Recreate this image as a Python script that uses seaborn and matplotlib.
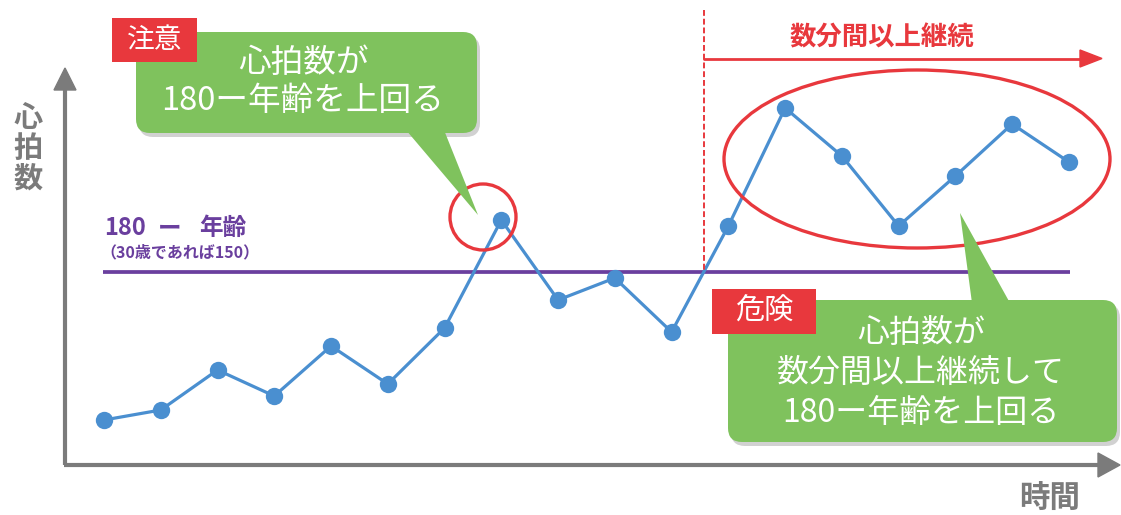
import numpy as np
import matplotlib
matplotlib.use("Agg")
import matplotlib.pyplot as plt
import seaborn as sns
from matplotlib.patches import FancyBboxPatch, Polygon, Ellipse, Circle, Rectangle

# ---- data ----
time = list(range(1, 19))
heart_rate = [113, 115.5, 125.5, 119, 131.5, 122, 136, 163, 143, 148.5,
              135, 161.5, 191, 179, 161.5, 174, 187, 177.5]
threshold = 150
y_label = "心\n拍\n数"
x_label = "時間"
threshold_label_parts = ["180", "ー", "年齢"]
threshold_note = "（30歳であれば150）"
caution_tag = "注意"
caution_lines = ["心拍数が", "180ー年齢を上回る"]
danger_tag = "危険"
danger_lines = ["心拍数が", "数分間以上継続して", "180ー年齢を上回る"]
duration_label = "数分間以上継続"

# ---- colours ----
BLUE = "#4a8fd0"
PURPLE = "#6a3f9e"
RED = "#e8383d"
GREEN = "#7fc25d"
GRAY = "#7b7b7b"

sns.set_style("white")
plt.rcParams['font.family'] = ['Noto Sans CJK JP', 'DejaVu Sans']

W, H = 1121, 515
fig = plt.figure(figsize=(W / 100, H / 100), dpi=100)

# data axes spanning the whole figure (pixel mapping: x0=104 for t=1, 56.76 px per step;
# y=272 px for 150 bpm, 4 px per bpm)
ax = fig.add_axes([0, 0, 1, 1])
px_step = 56.76
ax.set_xlim(1 - 104 / px_step, 1 + (W - 104) / px_step)
ax.set_ylim(threshold - (H - 272) / 4, threshold + 272 / 4)
ax.axis("off")

ax.hlines(threshold, 0.98, 18.02, color=PURPLE, lw=2.7, zorder=2)
sns.lineplot(x=time, y=heart_rate, ax=ax, color=BLUE, linewidth=2.3,
             marker="o", markersize=12.5, markeredgewidth=0, zorder=5)

# crossing point where the series goes above the threshold for good
hr = np.array(heart_rate, dtype=float)
idx = 10
t_cross = time[idx] + (threshold - hr[idx]) / (hr[idx + 1] - hr[idx])

# overlay axes in pixel coordinates for decorations
ov = fig.add_axes([0, 0, 1, 1])
ov.set_xlim(0, W)
ov.set_ylim(H, 0)
ov.axis("off")
ov.patch.set_alpha(0)

def to_px(t, v):
    disp = ax.transData.transform((t, v))
    return ov.transData.inverted().transform(disp)

cx, cy = to_px(t_cross, threshold)

# axes arrows
ov.plot([65, 65], [465, 88], color=GRAY, lw=3.0, solid_capstyle="butt")
ov.add_patch(Polygon([(54, 90), (76, 90), (65, 68)], closed=True, color=GRAY))
ov.plot([63.5, 1100], [465, 465], color=GRAY, lw=3.0, solid_capstyle="butt")
ov.add_patch(Polygon([(1098, 453), (1098, 477), (1120, 465)], closed=True, color=GRAY))

ov.text(28, 148, y_label, ha="center", va="center", fontsize=21, fontweight="bold",
        color=GRAY, linespacing=1.02)
ov.text(1050, 499, x_label, ha="center", va="center", fontsize=22, fontweight="bold",
        color=GRAY)

# threshold labels
for s, xx in zip(threshold_label_parts, [104, 158, 199]):
    ov.text(xx, 228, s, ha="left", va="center", fontsize=17,
            fontweight="bold", color=PURPLE)
ov.text(100, 252, threshold_note, ha="left", va="center", fontsize=11.5,
        fontweight="bold", color=PURPLE)

# red dashed vertical + duration arrow
ov.plot([cx, cx], [10, cy], color=RED, lw=1.4, ls=(0, (3, 1.5)))
ov.plot([cx, 1082], [58.5, 58.5], color=RED, lw=2.0)
ov.add_patch(Polygon([(1080, 50), (1080, 67), (1102, 58.5)], closed=True, color=RED))
ov.text(882, 38, duration_label, ha="center", va="center", fontsize=19,
        fontweight="bold", color=RED)

# ellipse and small circle
ov.add_patch(Ellipse((917, 159), 386, 178, fill=False, ec=RED, lw=2.4, zorder=6))
ov.add_patch(Circle((483, 217), 33, fill=False, ec=RED, lw=2.4, zorder=6))

def callout(x, y, w, h, tail, lines, line_y, cx_text, fs):
    # shadow
    ov.add_patch(FancyBboxPatch((x + 3, y + 4), w, h,
                                boxstyle="round,pad=0,rounding_size=14",
                                fc="#000000", ec="none", alpha=0.18, zorder=7))
    ov.add_patch(FancyBboxPatch((x, y), w, h, boxstyle="round,pad=0,rounding_size=14",
                                fc=GREEN, ec="none", zorder=8))
    ov.add_patch(Polygon(tail, closed=True, fc=GREEN, ec="none", zorder=8))
    for s, ly in zip(lines, line_y):
        ov.text(cx_text, ly, s, ha="center", va="center", fontsize=fs,
                color="white", zorder=9)

callout(136, 32, 341, 101, [(406, 130), (444, 130), (478, 215)],
        caution_lines, [63, 101], 303, 23.5)
callout(728, 300, 389, 142, [(972, 303), (1010, 303), (960, 213)],
        danger_lines, [333, 373, 413], 921, 23)

# tags
ov.add_patch(Rectangle((112, 18), 85, 44, fc=RED, ec="none", zorder=10))
ov.text(155, 40, caution_tag, ha="center", va="center", fontsize=20, color="white", zorder=11)
ov.add_patch(Rectangle((712, 289), 104, 45, fc=RED, ec="none", zorder=10))
ov.text(764, 312, danger_tag, ha="center", va="center", fontsize=21, color="white", zorder=11)

fig.savefig("out.png", dpi=100)
